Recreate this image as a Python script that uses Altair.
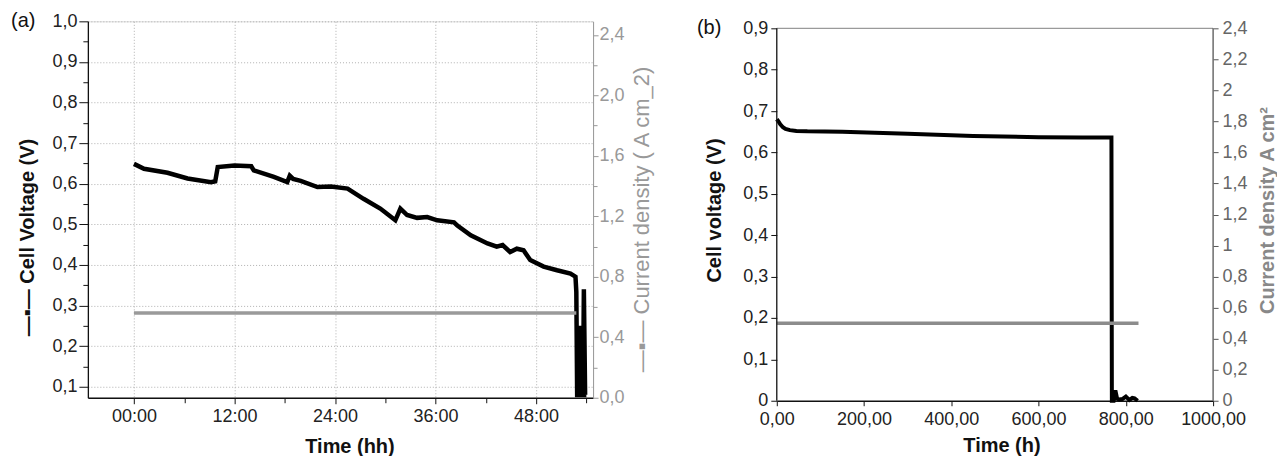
import altair as alt
import pandas as pd

FONT = "Liberation Sans"

# ---------------- Panel (a) data ----------------
a_time = [0, 1.2, 4.0, 6.4, 9.2, 9.7, 10.0, 12.0, 14.0, 14.3, 16.7, 18.3, 18.6, 19.0,
          19.9, 21.9, 23.5, 25.5, 27.4, 29.4, 31.2, 31.8, 32.6, 33.8, 35.0, 36.2, 38.2,
          38.6, 40.2, 42.2, 43.3, 44.0, 44.9, 45.7, 46.5, 47.3, 48.9, 50.5, 52.1, 52.7,
          52.8, 52.9, 53.2, 53.35, 53.45, 53.6, 53.7, 53.85, 54.0]
a_volt = [0.649, 0.637, 0.627, 0.613, 0.604, 0.606, 0.641, 0.645, 0.643, 0.633, 0.617,
          0.604, 0.620, 0.612, 0.607, 0.592, 0.593, 0.588, 0.563, 0.539, 0.510, 0.539,
          0.523, 0.516, 0.518, 0.510, 0.505, 0.497, 0.473, 0.453, 0.445, 0.449, 0.432,
          0.440, 0.436, 0.412, 0.396, 0.387, 0.379, 0.371, 0.334, 0.08, 0.08, 0.25,
          0.08, 0.08, 0.34, 0.08, 0.08]
a_cur_time = [0, 52.8]
a_cur = [0.56, 0.56]

# ---------------- Panel (b) data ----------------
b_time = [0, 3, 8, 14, 20, 30, 45, 70, 150, 300, 450, 600, 700, 767, 768, 772, 776,
          780, 785, 792, 800, 808, 815, 820, 827]
b_volt = [0.68, 0.676, 0.668, 0.661, 0.657, 0.654, 0.652, 0.651, 0.65, 0.645, 0.64,
          0.637, 0.636, 0.636, 0.0, 0.0, 0.025, 0.005, 0.003, 0.004, 0.01, 0.002,
          0.007, 0.006, 0.0]
b_cur_time = [0, 829]
b_cur = [0.5, 0.5]

# panel (b) axis extents (frame of the plot)
b_t_range = [0, 1000]
b_v_range = [0, 0.9]
b_j_top = 2.4

va = pd.DataFrame({"t": a_time, "v": a_volt})
ja = pd.DataFrame({"t": a_cur_time, "j": a_cur})
vb = pd.DataFrame({"t": b_time, "v": b_volt})
jb = pd.DataFrame({"t": b_cur_time, "j": b_cur})

comma1 = "replace(format(datum.value, '.1f'), '.', ',')"
common = dict(labelOverlap=False, labelFlush=False, labelFont=FONT, labelFontSize=18,
              titleFont=FONT, titleFontSize=20)

# ---------------- Panel (a) ----------------
major12 = "datum.value % 12 == 0"
xa = alt.X("t:Q", scale=alt.Scale(domain=[-5.5, 54.8], nice=False, zero=False),
           axis=alt.Axis(values=list(range(0, 55, 6)), title="Time (hh)",
                         labelExpr="(" + major12 + ") ? ((datum.value < 10 ? '0' : '') + datum.value + ':00') : ''",
                         tickSize={"condition": {"test": major12, "value": 6}, "value": 5},
                         grid=True,
                         gridOpacity={"condition": {"test": major12, "value": 1}, "value": 0},
                         gridDash=[1, 2], gridColor="#b0b0b0", gridWidth=1,
                         domainColor="#111", tickColor="#111", domainWidth=1.3,
                         labelColor="#222", labelPadding=4,
                         titleFontWeight="bold", titleColor="#111", titlePadding=11,
                         titleX=262, **common))

maj01 = "abs(datum.value*10 - round(datum.value*10)) < 0.001"
yva = alt.Y("v:Q", scale=alt.Scale(domain=[0.073, 1.0], nice=False, zero=False),
            axis=alt.Axis(values=[round(0.1 + 0.05 * i, 2) for i in range(19)],
                          title="—▪— Cell Voltage (V)",
                          labelExpr="(" + maj01 + ") ? " + comma1 + " : ''",
                          tickSize={"condition": {"test": maj01, "value": 9}, "value": 5},
                          grid=True,
                          gridOpacity={"condition": {"test": maj01, "value": 1}, "value": 0},
                          gridDash=[1, 2], gridColor="#b0b0b0",
                          domainColor="#111", tickColor="#111", domainWidth=1.3,
                          labelColor="#222", labelPadding=2,
                          titleFontWeight="bold", titleColor="#111", titleBaseline="middle",
                          titleX=-60, titleY=216, **common))

maj04 = "abs(datum.value/0.4 - round(datum.value/0.4)) < 0.001"
yja = alt.Y("j:Q", scale=alt.Scale(domain=[0, 2.49], nice=False, zero=False),
            axis=alt.Axis(orient="right", values=[round(0.2 * i, 1) for i in range(13)],
                          title="—▪— Current density ( A cm_2)",
                          labelExpr="(" + maj04 + ") ? " + comma1 + " : ''",
                          tickSize={"condition": {"test": maj04, "value": 5}, "value": 4},
                          grid=False, domainColor="#999", tickColor="#999",
                          labelColor="#999", labelPadding=1,
                          labelOverlap=False, labelFlush=False, labelFont=FONT,
                          labelFontSize=18, titleFont=FONT, titleFontSize=22,
                          titleFontWeight="normal", titleColor="#999", titleAngle=270,
                          titleBaseline="middle", titleX=49, titleY=198))

line_va = alt.Chart(va).mark_line(color="#000", strokeWidth=4.5, strokeJoin="miter").encode(x=xa, y=yva)
line_ja = alt.Chart(ja).mark_line(color="#9a9a9a", strokeWidth=3.5).encode(x="t:Q", y=yja)
lab_a = alt.Chart(pd.DataFrame({"s": ["(a)"]})).mark_text(
    font=FONT, fontSize=20, align="left", baseline="middle", color="#111"
).encode(x=alt.value(-77), y=alt.value(0), text="s:N")

panel_a = alt.layer(line_va, line_ja, lab_a).resolve_scale(y="independent").properties(
    width=506, height=377)

# ---------------- Panel (b) ----------------
# plot area is 7px taller than the framed region (frame drawn at 0.9 / 2.4),
# so that panel (b) sits slightly lower than panel (a), as in the figure
B_H = 380
B_FRAME_H = 373
v_dom = [0, b_v_range[1] * B_H / B_FRAME_H]
j_dom = [0, b_j_top * B_H / B_FRAME_H]

xb = alt.X("t:Q", scale=alt.Scale(domain=b_t_range, nice=False, zero=False),
           axis=alt.Axis(values=list(range(0, 1001, 200)), title="Time (h)",
                         labelExpr="replace(format(datum.value, '.2f'), '.', ',')",
                         tickSize=5, grid=False,
                         domainColor="#111", tickColor="#111", domainWidth=1.3,
                         labelColor="#222", labelPadding=5,
                         titleFontWeight="bold", titleColor="#111", titlePadding=7,
                         titleX=225, **common))

short = "replace(toString(round(datum.value*10)/10), '.', ',')"
yvb = alt.Y("v:Q", scale=alt.Scale(domain=v_dom, nice=False, zero=False),
            axis=alt.Axis(values=[round(0.1 * i, 1) for i in range(10)],
                          title="Cell voltage (V)", labelExpr=short,
                          tickSize=6, grid=False, domain=False,
                          tickColor="#111", labelColor="#222", labelPadding=3,
                          titleFontWeight="bold", titleColor="#111", titleBaseline="middle",
                          titleX=-62, titleY=189, **common))

yjb = alt.Y("j:Q", scale=alt.Scale(domain=j_dom, nice=False, zero=False),
            axis=alt.Axis(orient="right", values=[round(0.2 * i, 1) for i in range(13)],
                          title="Current density A  cm²", labelExpr=short,
                          tickSize=5, grid=False, domain=False, tickColor="#555",
                          labelColor="#666", labelPadding=4,
                          titleFontWeight="bold", titleColor="#888", titleAngle=270,
                          titleBaseline="middle", titleX=54, titleY=189, **common))

frame_scale = alt.Scale(domain=v_dom, nice=False, zero=False)
frame_df = pd.DataFrame({"t0": [b_t_range[0]], "t1": [b_t_range[1]],
                         "v0": [b_v_range[0]], "v1": [b_v_range[1]]})
top_frame = alt.Chart(frame_df).mark_rule(color="#9a9a9a", strokeWidth=1.2).encode(
    x=alt.X("t0:Q"), x2="t1:Q", y=alt.Y("v1:Q", scale=frame_scale, axis=None))
left_frame = alt.Chart(frame_df).mark_rule(color="#111", strokeWidth=1.3).encode(
    x=alt.X("t0:Q"), y=alt.Y("v0:Q", scale=frame_scale, axis=None), y2="v1:Q")
right_frame = alt.Chart(frame_df).mark_rule(color="#555", strokeWidth=1.3).encode(
    x=alt.X("t1:Q"), y=alt.Y("v0:Q", scale=frame_scale, axis=None), y2="v1:Q")

line_vb = alt.Chart(vb).mark_line(color="#000", strokeWidth=4).encode(x=xb, y=yvb)
line_jb = alt.Chart(jb).mark_line(color="#8c8c8c", strokeWidth=3.5).encode(x="t:Q", y=yjb)
lab_b = alt.Chart(pd.DataFrame({"s": ["(b)"]})).mark_text(
    font=FONT, fontSize=20, align="left", baseline="middle", color="#111"
).encode(x=alt.value(-80), y=alt.value(B_H - B_FRAME_H), text="s:N")

panel_b = alt.layer(line_vb, line_jb, top_frame, left_frame, right_frame, lab_b).resolve_scale(
    y="independent").properties(width=437, height=B_H,
                                view=alt.ViewBackground(strokeOpacity=0))

chart = alt.hconcat(panel_a, panel_b, spacing=43).properties(
    padding={"left": 2, "top": 2, "right": 0, "bottom": 0}
).configure_view(stroke="#9a9a9a", strokeWidth=1.2).configure(background="white")

chart.save("out.html", embed_options={"renderer": "svg", "actions": False})
